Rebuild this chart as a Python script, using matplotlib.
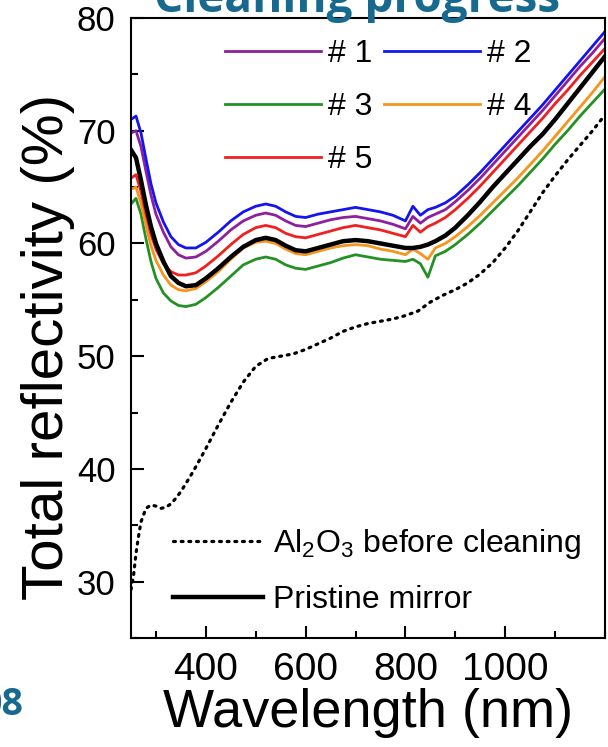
import matplotlib
matplotlib.use("Agg")
import matplotlib.pyplot as plt
from matplotlib.ticker import MultipleLocator

plt.rcParams['font.family'] = ['Liberation Sans', 'DejaVu Sans']
plt.rcParams['mathtext.fontset'] = 'custom'
plt.rcParams['mathtext.rm'] = 'Liberation Sans'
plt.rcParams['mathtext.it'] = 'Liberation Sans:italic'

# wavelength grid (nm) for the cleaned samples and pristine mirror
wl = [250, 260, 270, 280, 290, 300, 315, 330, 345, 360, 380, 400, 425, 450,
      475, 500, 520, 540, 560, 580, 600, 625, 650, 675, 700, 725, 750, 775,
      800, 815, 830, 845, 860, 880, 900, 925, 950, 975, 1000, 1025, 1050,
      1075, 1100, 1125, 1150, 1175, 1200]

pristine = [68.3, 67.6, 65.6, 63.4, 61.5, 60.0, 58.4, 57.1, 56.5, 56.2, 56.3,
            56.9, 57.8, 58.8, 59.7, 60.3, 60.5, 60.3, 59.8, 59.4, 59.3, 59.6,
            59.9, 60.2, 60.3, 60.2, 60.0, 59.8, 59.6, 59.6, 59.7, 59.9, 60.2,
            60.7, 61.4, 62.5, 63.7, 65.0, 66.2, 67.4, 68.6, 69.7, 71.0, 72.4,
            73.8, 75.2, 76.6]

s1 = [69.8, 70.0, 68.6, 66.4, 64.3, 62.6, 61.0, 59.7, 59.0, 58.7, 58.8, 59.3,
      60.2, 61.2, 62.0, 62.5, 62.7, 62.5, 62.0, 61.6, 61.5, 61.8, 62.1, 62.3,
      62.4, 62.2, 62.0, 61.7, 61.3, 62.4, 61.8, 62.3, 62.6, 63.0, 63.7, 64.7,
      65.8, 67.0, 68.2, 69.4, 70.6, 71.8, 73.1, 74.4, 75.7, 76.9, 78.2]

s2 = [71.0, 71.3, 69.8, 67.5, 65.3, 63.6, 61.9, 60.6, 59.9, 59.6, 59.6, 60.1,
      61.0, 62.0, 62.8, 63.3, 63.5, 63.3, 62.8, 62.4, 62.3, 62.6, 62.8, 63.0,
      63.2, 63.0, 62.8, 62.5, 62.0, 63.3, 62.5, 63.0, 63.2, 63.6, 64.2, 65.2,
      66.3, 67.5, 68.7, 69.9, 71.1, 72.3, 73.6, 74.9, 76.2, 77.5, 78.8]

s3 = [63.5, 64.0, 62.6, 60.4, 58.4, 56.9, 55.6, 54.9, 54.5, 54.4, 54.6, 55.2,
      56.1, 57.1, 58.1, 58.6, 58.8, 58.6, 58.1, 57.8, 57.7, 58.0, 58.3, 58.7,
      59.0, 58.8, 58.6, 58.5, 58.4, 58.6, 58.2, 57.0, 58.9, 59.3, 59.9, 60.8,
      61.8, 62.9, 64.0, 65.1, 66.3, 67.5, 68.8, 70.0, 71.3, 72.5, 73.7]

s4 = [64.8, 65.0, 63.6, 61.6, 59.8, 58.5, 57.2, 56.3, 55.9, 55.8, 56.0, 56.6,
      57.5, 58.6, 59.6, 60.1, 60.2, 60.0, 59.5, 59.1, 59.0, 59.3, 59.6, 59.8,
      59.9, 59.8, 59.5, 59.3, 59.0, 59.5, 59.1, 58.6, 59.6, 60.0, 60.6, 61.5,
      62.5, 63.6, 64.7, 65.8, 67.0, 68.2, 69.5, 70.8, 72.1, 73.4, 74.8]

s5 = [65.8, 66.1, 64.6, 62.6, 60.8, 59.5, 58.2, 57.5, 57.2, 57.2, 57.4, 58.0,
      58.9, 59.9, 60.8, 61.4, 61.6, 61.4, 60.9, 60.6, 60.5, 60.8, 61.1, 61.4,
      61.6, 61.4, 61.2, 60.9, 60.6, 61.6, 61.0, 61.5, 61.8, 62.3, 63.0, 64.0,
      65.1, 66.3, 67.5, 68.7, 69.9, 71.1, 72.4, 73.6, 74.9, 76.1, 77.3]

# Al2O3 coated mirror before cleaning
wl_al = [250, 255, 260, 265, 270, 280, 290, 300, 310, 320, 330, 340, 350, 360,
         375, 400, 425, 450, 475, 500, 525, 550, 575, 600, 625, 650, 675, 700,
         725, 750, 775, 800, 825, 850, 875, 900, 925, 950, 975, 1000, 1025,
         1050, 1075, 1100, 1125, 1150, 1175, 1200]
al2o3 = [29.3, 30.5, 32.5, 34.0, 35.3, 36.5, 36.8, 36.7, 36.5, 36.6, 36.9,
         37.4, 38.0, 38.7, 39.8, 41.8, 43.9, 45.9, 47.7, 49.1, 49.8, 50.0,
         50.2, 50.6, 51.1, 51.6, 52.2, 52.6, 52.9, 53.1, 53.3, 53.6, 54.0,
         54.8, 55.4, 55.9, 56.5, 57.3, 58.3, 59.6, 61.1, 62.8, 64.5, 66.0,
         67.4, 68.7, 70.0, 71.4]

labels = ['# 1', '# 2', '# 3', '# 4', '# 5']
colors = ['#8E1F9E', '#1414F0', '#249124', '#F7941D', '#F02020']

fig = plt.figure(figsize=(6.08, 7.47), dpi=100)
ax = fig.add_axes([131 / 608, 1 - 638 / 747, 474 / 608, 620 / 747])

dot, = ax.plot(wl_al, al2o3, color='black', lw=2.3,
               linestyle=(0, (0.6, 1.8)), dash_capstyle='round')
lines = []
for ys, c, lab in zip([s1, s2, s3, s4, s5], colors, labels):
    ln, = ax.plot(wl, ys, color=c, lw=2.0, label=lab)
    lines.append(ln)
pr, = ax.plot(wl, pristine, color='black', lw=3.2)

ax.set_xlim(250, 1200)
ax.set_ylim(25, 80)
ax.xaxis.set_major_locator(MultipleLocator(200))
ax.xaxis.set_minor_locator(MultipleLocator(100))
ax.yaxis.set_major_locator(MultipleLocator(10))
ax.yaxis.set_minor_locator(MultipleLocator(5))
ax.set_xticks([400, 600, 800, 1000])
ax.tick_params(which='both', direction='in', top=False, right=False, width=1.5)
ax.tick_params(which='major', length=9)
ax.tick_params(which='minor', length=5)
ax.tick_params(axis='x', which='major', labelsize=28, pad=10)
ax.tick_params(axis='y', which='major', labelsize=25, pad=11)
for sp in ax.spines.values():
    sp.set_linewidth(1.5)

ax.set_xlabel('Wavelength (nm)', fontsize=39, labelpad=0)
ax.set_ylabel('Total reflectivity (%)', fontsize=42)
ax.yaxis.set_label_coords(-0.118, 0.470)

order = [0, 2, 4, 1, 3]
leg1 = ax.legend([lines[i] for i in order], [labels[i] for i in order],
                 ncol=2, loc='upper left', bbox_to_anchor=(0.198, 0.966),
                 frameon=False, fontsize=23, handlelength=3.0,
                 handletextpad=0.22, columnspacing=0.38, labelspacing=0.72,
                 borderpad=0, borderaxespad=0)
ax.add_artist(leg1)
ax.legend([dot, pr], [r'Al$_\mathregular{2}$O$_\mathregular{3}$ before cleaning',
                      'Pristine mirror'],
          loc='lower left', bbox_to_anchor=(0.089, 0.037), frameon=False,
          fontsize=23, handlelength=2.8, handletextpad=0.34,
          labelspacing=0.76, borderpad=0, borderaxespad=0)

# slide title and page number, both cut by the crop
fig.text(357 / 608, 1 - 12 / 747, 'Cleaning progress', color='#17698E',
         fontsize=33, fontweight='bold', family=['Open Sans', 'DejaVu Sans'],
         ha='center', va='baseline')
fig.text(23 / 608, 1 - 715 / 747, '08', color='#17698E', fontsize=27,
         fontweight='bold', family=['Open Sans', 'DejaVu Sans'],
         ha='right', va='baseline')

fig.savefig('out.png', dpi=100)
